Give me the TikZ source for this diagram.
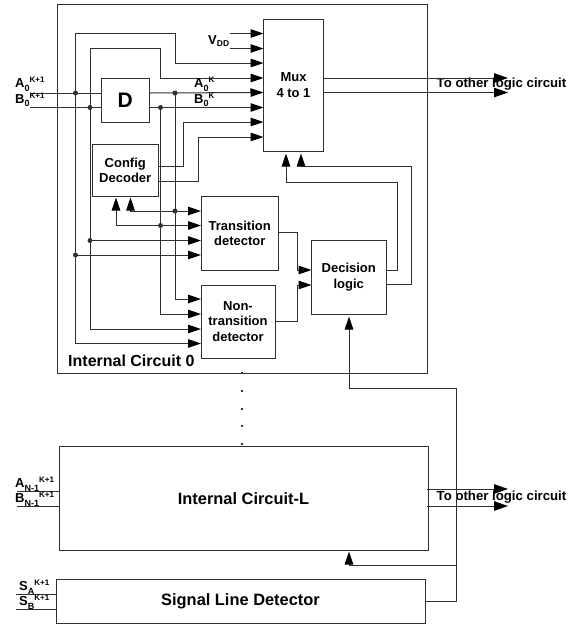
\documentclass[tikz,border=0pt]{standalone}
\usepackage{fontspec}
\setmainfont{Liberation Sans}
\usetikzlibrary{arrows.meta}
\definecolor{ln}{HTML}{303030}
\newcommand{\lab}[3]{\fontsize{13}{13}\selectfont\textbf{#1}\raisebox{-3.5pt}{\fontsize{9}{9}\selectfont\textbf{#2}}\raisebox{5pt}{\fontsize{8}{8}\selectfont\textbf{#3}}}
\tikzset{
  x=1pt,y=-1pt,
  box/.style={draw=ln,line width=1pt,inner sep=0pt,outer sep=0pt,anchor=north west,align=center,font=\bfseries\fontsize{13}{15.5}\selectfont},
  wire/.style={draw=ln,line width=1pt},
  arr/.style={wire,-{Triangle[length=13pt,width=8.5pt,color=black]}},
  bigarr/.style={wire,-{Triangle[length=14pt,width=9.5pt,color=black]}},
  dot/.style={circle,fill=ln,inner sep=0pt,minimum size=5pt},
  txt/.style={inner sep=0pt,font=\bfseries\fontsize{13.2}{15}\selectfont},
  lbl/.style={inner sep=0pt,anchor=west},
  vd/.style={rectangle,fill=ln,inner sep=0pt,minimum size=2pt}
}
\begin{document}
\begin{tikzpicture}
\useasboundingbox (0,0) rectangle (582,625);
% boxes
\node[box,minimum width=370pt,minimum height=368.5pt] (ic0) at (57,4.5) {};
\node[box,minimum width=60pt,minimum height=132.5pt] (mux) at (263.5,19) {Mux\\4 to 1};
\node[box,minimum width=48.5pt,minimum height=44pt,font=\bfseries\fontsize{21}{21}\selectfont] (d) at (101,78) {D};
\node[box,minimum width=66.5pt,minimum height=51.5pt] (cfg) at (92,144.5) {Config\\Decoder};
\node[box,minimum width=77.5pt,minimum height=73.5pt] (td) at (201,196.5) {Transition\\detector};
\node[box,minimum width=74pt,minimum height=73pt] (ntd) at (201,285) {Non-\\transition\\detector};
\node[box,minimum width=74.5pt,minimum height=73.5pt] (dec) at (311.5,240.5) {Decision\\logic};
\node[box,minimum width=369pt,minimum height=104pt,font=\bfseries\fontsize{16.4}{18}\selectfont] (icl) at (59,446.5) {Internal Circuit-L};
\node[box,minimum width=369pt,minimum height=44pt,font=\bfseries\fontsize{16.4}{18}\selectfont] (sld) at (56,579.5) {Signal Line Detector};
% junctions and free ends
\coordinate (inA) at (30,93);
\coordinate (inB) at (30,107.5);
\coordinate (dAi) at (101,93);
\coordinate (dBi) at (101,107.5);
\coordinate (dAo) at (149.5,93);
\coordinate (dBo) at (149.5,107.5);
\node[dot] (j1) at (75.5,93) {};
\node[dot] (j2) at (90,107.5) {};
\node[dot] (j3) at (175,93) {};
\node[dot] (j4) at (160.5,107.5) {};
\node[dot] (j5) at (175,211) {};
\node[dot] (j6) at (160.5,225.5) {};
\node[dot] (j7) at (90,240.5) {};
\node[dot] (j8) at (75.5,255) {};
\coordinate (m1) at (263.5,33.5);
\coordinate (m2) at (263.5,48.5);
\coordinate (m3) at (263.5,63);
\coordinate (m4) at (263.5,78);
\coordinate (m5) at (263.5,92.5);
\coordinate (m6) at (263.5,107.5);
\coordinate (m7) at (263.5,122);
\coordinate (m8) at (263.5,137);
\coordinate (v1) at (230,33.5);
\coordinate (v2) at (230,48.5);
% inputs
\draw[wire] (inA) -- (dAi);
\draw[wire] (inB) -- (dBi);
\draw[arr] (dAo) -- (m5);
\draw[arr] (dBo) -- (m6);
\draw[arr] (v1) -- (m1);
\draw[arr] (v2) -- (m2);
\draw[arr] (j1.center) -- (75.5,33.5) -- (175,33.5) -- (175,63) -- (m3);
\draw[arr] (j2.center) -- (90,48.5) -- (160.5,48.5) -- (160.5,78) -- (m4);
\draw[arr] (158.5,166) -- (183.5,166) -- (183.5,122) -- (m7);
\draw[arr] (158.5,181.5) -- (198.5,181.5) -- (198.5,137) -- (m8);
% long verticals to the detectors
\draw[arr] (j1.center) -- (75.5,343.5) -- (201,343.5);
\draw[arr] (j2.center) -- (90,329) -- (201,329);
\draw[arr] (j4.center) -- (160.5,314) -- (201,314);
\draw[arr] (j3.center) -- (175,299) -- (201,299);
\draw[arr] (j5.center) -- (201,211);
\draw[arr] (j6.center) -- (201,225.5);
\draw[arr] (j7.center) -- (201,240.5);
\draw[arr] (j8.center) -- (201,255);
\draw[arr] (j5.center) -- (130.5,211) -- (130.5,197.5);
\draw[arr] (j6.center) -- (116,225.5) -- (116,197.5);
% detectors to decision logic
\draw[arr] (278.5,232.5) -- (297,232.5) -- (297,270) -- (311.5,270);
\draw[arr] (275,321) -- (297,321) -- (297,285) -- (311.5,285);
\draw[arr] (386,270) -- (397,270) -- (397,182) -- (286,182) -- (286,153.5);
\draw[arr] (386,284.5) -- (411.5,284.5) -- (411.5,166.5) -- (301,166.5) -- (301,153.5);
% texts under the outgoing tips
\node[txt] (t1) at (501.5,84) {To other logic circuit};
\node[txt] (t2) at (501.5,497) {To other logic circuit};
\draw[bigarr] (323.5,78) -- (508,78);
\draw[bigarr] (323.5,92.5) -- (508,92.5);
\draw[bigarr] (427,489) -- (508,489);
\draw[bigarr] (427,506) -- (508,506);
% signal line detector
\coordinate (s1) at (456.5,565);
\draw[arr] (sld.east) -- (456.5,601.5) -- (456.5,388) -- (349,388) -- (349,316.5);
\draw[arr] (s1) -- (349,565) -- (349,551.5);
% left inputs
\draw[wire] (17,491) -- (59,491);
\draw[wire] (17,506) -- (59,506);
\draw[wire] (16,594.5) -- (56,594.5);
\draw[wire] (16,609) -- (56,609);
% labels
\node[lbl] (la) at (15,84.5) {\lab{A}{0}{K+1}};
\node[lbl] (lb) at (15,100) {\lab{B}{0}{K+1}};
\node[lbl] (la2) at (194,84.5) {\lab{A}{0}{K}};
\node[lbl] (lb2) at (194,100) {\lab{B}{0}{K}};
\node[lbl] (vdd) at (208,41) {\bfseries\fontsize{13}{13}\selectfont V\raisebox{-2.5pt}{\fontsize{8.5}{8.5}\selectfont DD}};
\node[lbl] (lc) at (15,484) {\lab{A}{N-1}{K+1}};
\node[lbl] (ld) at (15,499) {\lab{B}{N-1}{K+1}};
\node[lbl] (le) at (19,587) {\lab{S}{A}{K+1}};
\node[lbl] (lf) at (19,602) {\lab{S}{B}{K+1}};
\node[lbl,font=\bfseries\fontsize{16}{16}\selectfont] (ic0t) at (68,360.5) {Internal Circuit 0};
% vertical ellipsis
\node[vd] (e0) at (242,373) {};
\node[vd] (e1) at (242,391) {};
\node[vd] (e2) at (242,408.5) {};
\node[vd] (e3) at (242,426) {};
\node[vd] (e4) at (242,444) {};
\end{tikzpicture}
\end{document}
